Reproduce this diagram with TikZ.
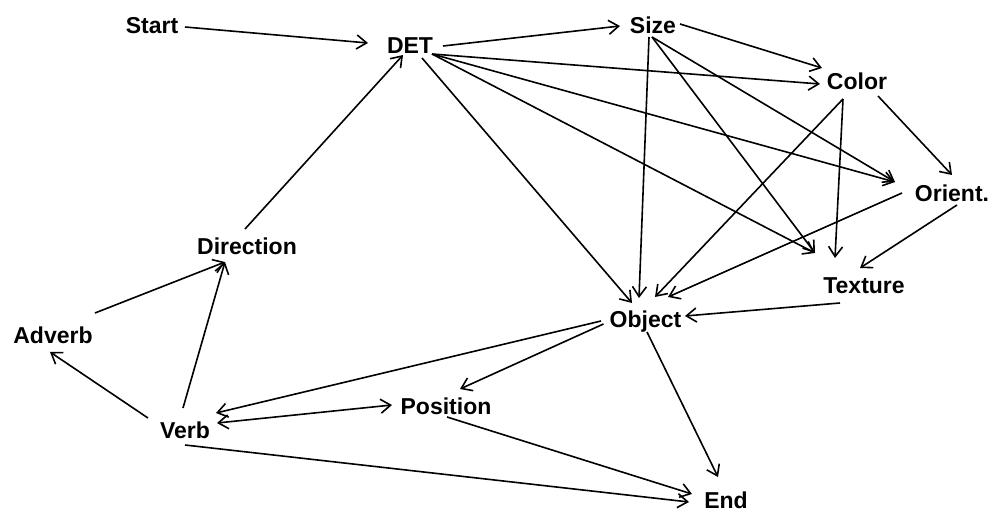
\documentclass[tikz,border=0pt]{standalone}
\usepackage{fontspec}
\setmainfont{Liberation Sans}
\usetikzlibrary{arrows.meta}
\begin{document}
\begin{tikzpicture}[x=0.75pt,y=-0.75pt,
  word/.style={font=\fontsize{17.25}{20}\selectfont\bfseries, inner sep=3pt,
    text height=12.4pt, text depth=0pt, anchor=center},
  barb/.tip={Straight Barb[length=7.5pt,width=10.5pt,line width=1.2pt]},
  arr/.style={line width=1.2pt, -barb},
  both/.style={line width=1.2pt, barb-barb}]
\useasboundingbox (0,0) rectangle (992,513);
\fill[white] (0,0) rectangle (992,513);

% word nodes
\node[word] (start) at (152,25) {Start};
\node[word] (det) at (410,45.5) {DET};
\node[word] (size) at (653,25) {Size};
\node[word] (color) at (857,81.5) {Color};
\node[word] (orient) at (952,193) {Orient.};
\node[word] (texture) at (864,285) {Texture};
\node[word] (object) at (645.5,319) {Object};
\node[word] (direction) at (247,246.5) {Direction};
\node[word] (adverb) at (53,335) {Adverb};
\node[word] (verb) at (185,430) {Verb};
\node[word] (position) at (446,406) {Position};
\node[word, inner sep=1pt] (end) at (726,500) {End};

% transitions (end points offset from the node centres, in pixels)
\draw[arr] ([shift={(33,2)}]start.center) -- ([shift={(-42,-2.5)}]det.center);
\draw[arr] ([shift={(33,0.5)}]det.center) -- ([shift={(-33,1)}]size.center);
\draw[arr] ([shift={(22,8.5)}]det.center) -- ([shift={(-37,2.5)}]color.center);
\draw[arr] ([shift={(22,8.5)}]det.center) -- ([shift={(-57,-11)}]orient.center);
\draw[arr] ([shift={(22,8.5)}]det.center) -- ([shift={(-49,-32)}]texture.center);
\draw[arr] ([shift={(12,12.5)}]det.center) -- ([shift={(-13.5,-16)}]object.center);
\draw[arr] ([shift={(27,-1)}]size.center) -- ([shift={(-35,-13.5)}]color.center);
\draw[arr] ([shift={(-4,12)}]size.center) -- ([shift={(-6.5,-21)}]object.center);
\draw[arr] ([shift={(-1,12)}]size.center) -- ([shift={(-49,-32)}]texture.center);
\draw[arr] ([shift={(-1,12)}]size.center) -- ([shift={(-57,-11)}]orient.center);
\draw[arr] ([shift={(-14,17.5)}]color.center) -- ([shift={(-29,-27)}]texture.center);
\draw[arr] ([shift={(21,14.5)}]color.center) -- ([shift={(0,-18)}]orient.center);
\draw[arr] ([shift={(-14,17.5)}]color.center) -- ([shift={(9.5,-22)}]object.center);
\draw[arr] ([shift={(5,12)}]orient.center) -- ([shift={(-4,-17)}]texture.center);
\draw[arr] ([shift={(-50,0)}]orient.center) -- ([shift={(22.5,-22)}]object.center);
\draw[arr] ([shift={(-24,18)}]texture.center) -- ([shift={(39.5,-3)}]object.center);
\draw[arr] ([shift={(-44.5,2)}]object.center) -- ([shift={(31,-17)}]verb.center);
\draw[arr] ([shift={(-42,5)}]object.center) -- ([shift={(14,-17)}]position.center);
\draw[arr] ([shift={(1.5,13)}]object.center) -- ([shift={(-8,-23)}]end.center);
\draw[both] ([shift={(32,-7)}]verb.center) -- ([shift={(-54,-1)}]position.center);
\draw[arr] ([shift={(1,11)}]position.center) -- ([shift={(-34,-6)}]end.center);
\draw[arr] ([shift={(0,15)}]verb.center) -- ([shift={(-37,2)}]end.center);
\draw[arr] ([shift={(-37,-12)}]verb.center) -- ([shift={(-3,17)}]adverb.center);
\draw[arr] ([shift={(-2,-22)}]verb.center) -- ([shift={(-22,15.5)}]direction.center);
\draw[arr] ([shift={(42,-22)}]adverb.center) -- ([shift={(-22,15.5)}]direction.center);
\draw[arr] ([shift={(-2,-17.5)}]direction.center) -- ([shift={(-7,9.5)}]det.center);
\end{tikzpicture}
\end{document}
